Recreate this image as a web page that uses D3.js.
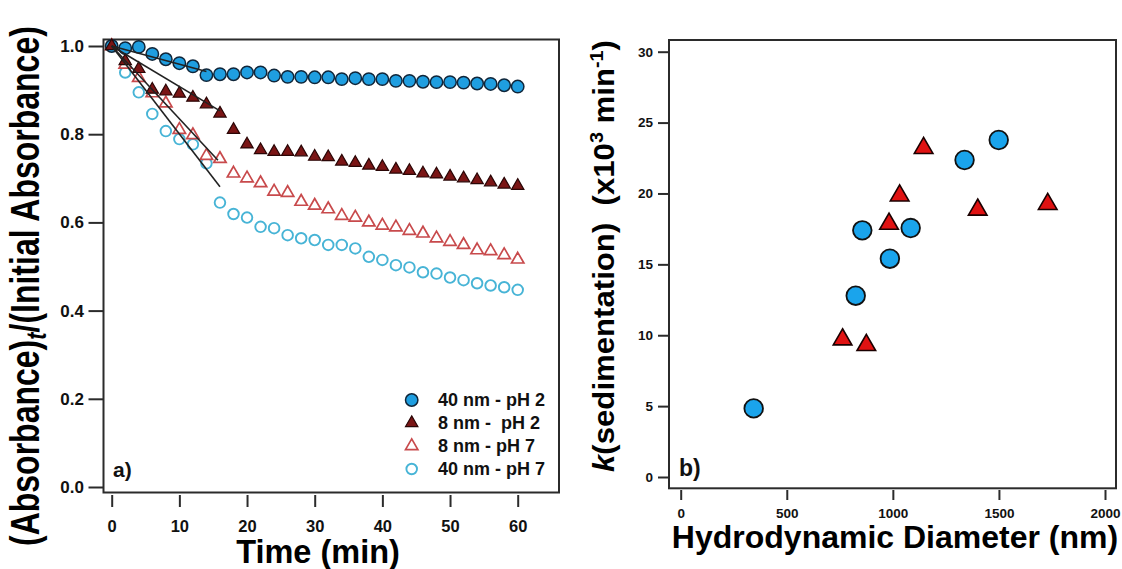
<!DOCTYPE html>
<html><head><meta charset="utf-8">
<script src="https://cdn.jsdelivr.net/npm/d3@7"></script>
<style>
html,body{margin:0;padding:0;background:#fff;}
svg{display:block;font-family:"Liberation Sans",Arial,sans-serif;font-weight:bold;}
</style></head>
<body><svg id="c" width="1122" height="569"></svg>
<script>
// ---------- Panel a) data ----------
const timeMin = [0,2,4,6,8,10,12,14,16,18,20,22,24,26,28,30,32,34,36,38,40,42,44,46,48,50,52,54,56,58,60];
const abs40pH2 = [1.000,0.995,0.998,0.982,0.970,0.961,0.954,0.934,0.936,0.936,0.940,0.940,0.933,0.930,0.930,0.929,0.929,0.925,0.927,0.925,0.925,0.921,0.921,0.919,0.918,0.918,0.917,0.915,0.914,0.911,0.908];
const abs8pH2  = [1.000,0.966,0.948,0.901,0.897,0.892,0.883,0.868,0.847,0.810,0.777,0.764,0.760,0.760,0.759,0.749,0.748,0.738,0.735,0.729,0.726,0.720,0.717,0.711,0.709,0.704,0.700,0.696,0.691,0.686,0.683];
const abs8pH7  = [1.000,0.958,0.928,0.893,0.870,0.810,0.798,0.751,0.744,0.711,0.700,0.689,0.670,0.667,0.647,0.638,0.630,0.615,0.611,0.600,0.593,0.589,0.581,0.575,0.564,0.556,0.549,0.537,0.535,0.526,0.516];
const abs40pH7 = [1.000,0.940,0.895,0.846,0.807,0.789,0.777,0.734,0.645,0.619,0.611,0.590,0.587,0.571,0.564,0.560,0.549,0.549,0.541,0.522,0.515,0.503,0.498,0.487,0.484,0.475,0.469,0.462,0.457,0.453,0.447];
// initial-rate fit lines (start, end)
const fit40pH2T = [0,14],   fit40pH2V = [1.0,0.942];
const fit8pH2T  = [0,16],   fit8pH2V  = [1.0,0.853];
const fit8pH7T  = [0,15.7], fit8pH7V  = [1.0,0.741];
const fit40pH7T = [0,16],   fit40pH7V = [1.0,0.681];
const legendLabels = ["40 nm - pH 2","8 nm -  pH 2","8 nm - pH 7","40 nm - pH 7"];
const xTicksA = [0,10,20,30,40,50,60];
const yTicksA = [0.0,0.2,0.4,0.6,0.8,1.0];

// ---------- Panel b) data ----------
const circD = [344,825,856,986,1084,1338,1499];
const circK = [4.84,12.79,17.40,15.40,17.56,22.36,23.77];
const triD  = [763,875,982,1032,1145,1400,1730];
const triK  = [9.70,9.30,17.85,19.85,23.2,18.85,19.25];
const xTicksB = [0,500,1000,1500,2000];
const yTicksB = [0,5,10,15,20,25,30];

const svg = d3.select("#c");
const ink = "#2b2b2b";

// ================= Panel a =================
const xA = d3.scaleLinear().domain([0,60]).range([111.7,517.7]);
const yA = d3.scaleLinear().domain([0,1]).range([487,46]);

svg.append("rect").attr("x",103.5).attr("y",39.5).attr("width",455.5).attr("height",453)
  .attr("fill","none").attr("stroke",ink).attr("stroke-width",2);

function styleAxis(g, fs){
  g.select(".domain").remove();
  g.selectAll(".tick line").attr("stroke",ink).attr("stroke-width",2);
  g.selectAll(".tick text").attr("fill","#111").attr("font-size",fs).attr("font-weight","bold")
    .attr("font-family","'Liberation Sans',Arial,sans-serif");
}
const axYA = svg.append("g").attr("transform","translate(103.5,0)")
  .call(d3.axisLeft(yA).tickValues(yTicksA).tickFormat(d3.format(".1f")).tickSizeInner(15).tickSizeOuter(0).tickPadding(4.5));
styleAxis(axYA,17);
const axXA = svg.append("g").attr("transform","translate(0,495)")
  .call(d3.axisBottom(xA).tickValues(xTicksA).tickFormat(d3.format("d")).tickSizeInner(12).tickSizeOuter(0).tickPadding(13.5));
styleAxis(axXA,16.5);

const triSmall = d3.symbol().type(d3.symbolTriangle).size(66);
const ptsA = (vals)=> timeMin.map((t,i)=>({t:t,v:vals[i]}));

// open circles 40 nm pH 7
svg.append("g").selectAll("circle").data(ptsA(abs40pH7)).join("circle")
  .attr("cx",d=>xA(d.t)).attr("cy",d=>yA(d.v)).attr("r",5.3)
  .attr("fill","#fff").attr("stroke","#47b4d6").attr("stroke-width",1.9);
// open triangles 8 nm pH 7
svg.append("g").selectAll("path").data(ptsA(abs8pH7)).join("path")
  .attr("d",triSmall).attr("transform",d=>`translate(${xA(d.t)},${yA(d.v)})`)
  .attr("fill","#fff").attr("stroke","#c84a4c").attr("stroke-width",1.7);
// filled circles 40 nm pH 2
svg.append("g").selectAll("circle").data(ptsA(abs40pH2)).join("circle")
  .attr("cx",d=>xA(d.t)).attr("cy",d=>yA(d.v)).attr("r",6.2)
  .attr("fill","#1f9ee0").attr("stroke","#10263a").attr("stroke-width",1.5);
// filled triangles 8 nm pH 2
svg.append("g").selectAll("path").data(ptsA(abs8pH2)).join("path")
  .attr("d",triSmall).attr("transform",d=>`translate(${xA(d.t)},${yA(d.v)})`)
  .attr("fill","#7a1515").attr("stroke","#2a0606").attr("stroke-width",1.2);

// fit lines
const lineA = d3.line().x(d=>xA(d[0])).y(d=>yA(d[1]));
[[fit40pH2T,fit40pH2V],[fit8pH2T,fit8pH2V],[fit8pH7T,fit8pH7V],[fit40pH7T,fit40pH7V]].forEach(([T,V])=>{
  svg.append("path").datum(T.map((t,i)=>[t,V[i]])).attr("d",lineA)
    .attr("fill","none").attr("stroke","#222").attr("stroke-width",1.6);
});

// legend
const legX = 411.7, legTextX = 438, legY0 = 400, legDy = 23;
const leg = svg.append("g");
legendLabels.forEach((lab,i)=>{
  const y = legY0 + i*legDy;
  if(i===0) leg.append("circle").attr("cx",legX).attr("cy",y).attr("r",6.2).attr("fill","#1f9ee0").attr("stroke","#10263a").attr("stroke-width",1.5);
  if(i===1) leg.append("path").attr("d",triSmall).attr("transform",`translate(${legX},${y})`).attr("fill","#7a1515").attr("stroke","#2a0606").attr("stroke-width",1.2);
  if(i===2) leg.append("path").attr("d",triSmall).attr("transform",`translate(${legX},${y})`).attr("fill","#fff").attr("stroke","#c84a4c").attr("stroke-width",1.7);
  if(i===3) leg.append("circle").attr("cx",legX).attr("cy",y).attr("r",5.3).attr("fill","#fff").attr("stroke","#47b4d6").attr("stroke-width",1.9);
  leg.append("text").attr("x",legTextX).attr("y",y).attr("dy","0.36em").attr("font-size",18)
    .attr("fill","#111").style("white-space","pre").text(lab);
});

svg.append("text").attr("x",113).attr("y",477).attr("font-size",21).attr("fill","#111").text("a)");

// x title a
svg.append("text").attr("x",318).attr("y",563).attr("text-anchor","middle").attr("font-size",32.5).attr("fill","#000").text("Time (min)");

// y title a (tall glyphs compressed along reading direction)
const ytA = svg.append("text").attr("font-size",41).attr("fill","#000");
ytA.append("tspan").text("(Absorbance)");
ytA.append("tspan").attr("font-style","italic").attr("font-size",28).attr("dy",7).text("t");
ytA.append("tspan").attr("dy",-7).text("/(Initial Absorbance)");
{
  const L = ytA.node().getComputedTextLength();
  const target = 520;
  ytA.attr("text-anchor","start")
     .attr("transform",`translate(39,${286+target/2}) rotate(-90) scale(${target/L},1)`);
}

// ================= Panel b =================
const xB = d3.scaleLinear().domain([0,2000]).range([680.7,1105]);
const yB = d3.scaleLinear().domain([0,30]).range([477,51.7]);

svg.append("rect").attr("x",669).attr("y",40).attr("width",447).attr("height",448.3)
  .attr("fill","none").attr("stroke",ink).attr("stroke-width",2);

const axYB = svg.append("g").attr("transform","translate(669,0)")
  .call(d3.axisLeft(yB).tickValues(yTicksB).tickFormat(d3.format("d")).tickSizeInner(11).tickSizeOuter(0).tickPadding(5));
styleAxis(axYB,13.5);
const axXB = svg.append("g").attr("transform","translate(0,490)")
  .call(d3.axisBottom(xB).tickValues(xTicksB).tickFormat(d3.format("d")).tickSizeInner(10).tickSizeOuter(0).tickPadding(8));
styleAxis(axXB,13.5);

const triBig = d3.symbol().type(d3.symbolTriangle).size(150);
svg.append("g").selectAll("circle").data(circD.map((d,i)=>({d:d,k:circK[i]}))).join("circle")
  .attr("cx",p=>xB(p.d)).attr("cy",p=>yB(p.k)).attr("r",9.3)
  .attr("fill","#1aa4ec").attr("stroke","#111").attr("stroke-width",1.8);
svg.append("g").selectAll("path").data(triD.map((d,i)=>({d:d,k:triK[i]}))).join("path")
  .attr("d",triBig).attr("transform",p=>`translate(${xB(p.d)},${yB(p.k)})`)
  .attr("fill","#e01212").attr("stroke","#1a0000").attr("stroke-width",1.6);

svg.append("text").attr("x",679).attr("y",476).attr("font-size",23).attr("fill","#111").text("b)");

svg.append("text").attr("x",895).attr("y",548).attr("text-anchor","middle").attr("font-size",32).attr("fill","#000").text("Hydrodynamic Diameter (nm)");

const ytB = svg.append("text").attr("font-size",30).attr("fill","#000").style("white-space","pre");
ytB.append("tspan").attr("font-style","italic").text("k");
ytB.append("tspan").text("(sedimentation)  (x10");
ytB.append("tspan").attr("font-size",19).attr("dy",-11).text("3");
ytB.append("tspan").attr("dy",11).text(" min");
ytB.append("tspan").attr("font-size",19).attr("dy",-11).text("-1");
ytB.append("tspan").attr("dy",11).text(")");
{
  const L = ytB.node().getComputedTextLength();
  const target = 432;
  ytB.attr("transform",`translate(614,${256+target/2}) rotate(-90) scale(${target/L},1)`);
}
</script></body></html>
